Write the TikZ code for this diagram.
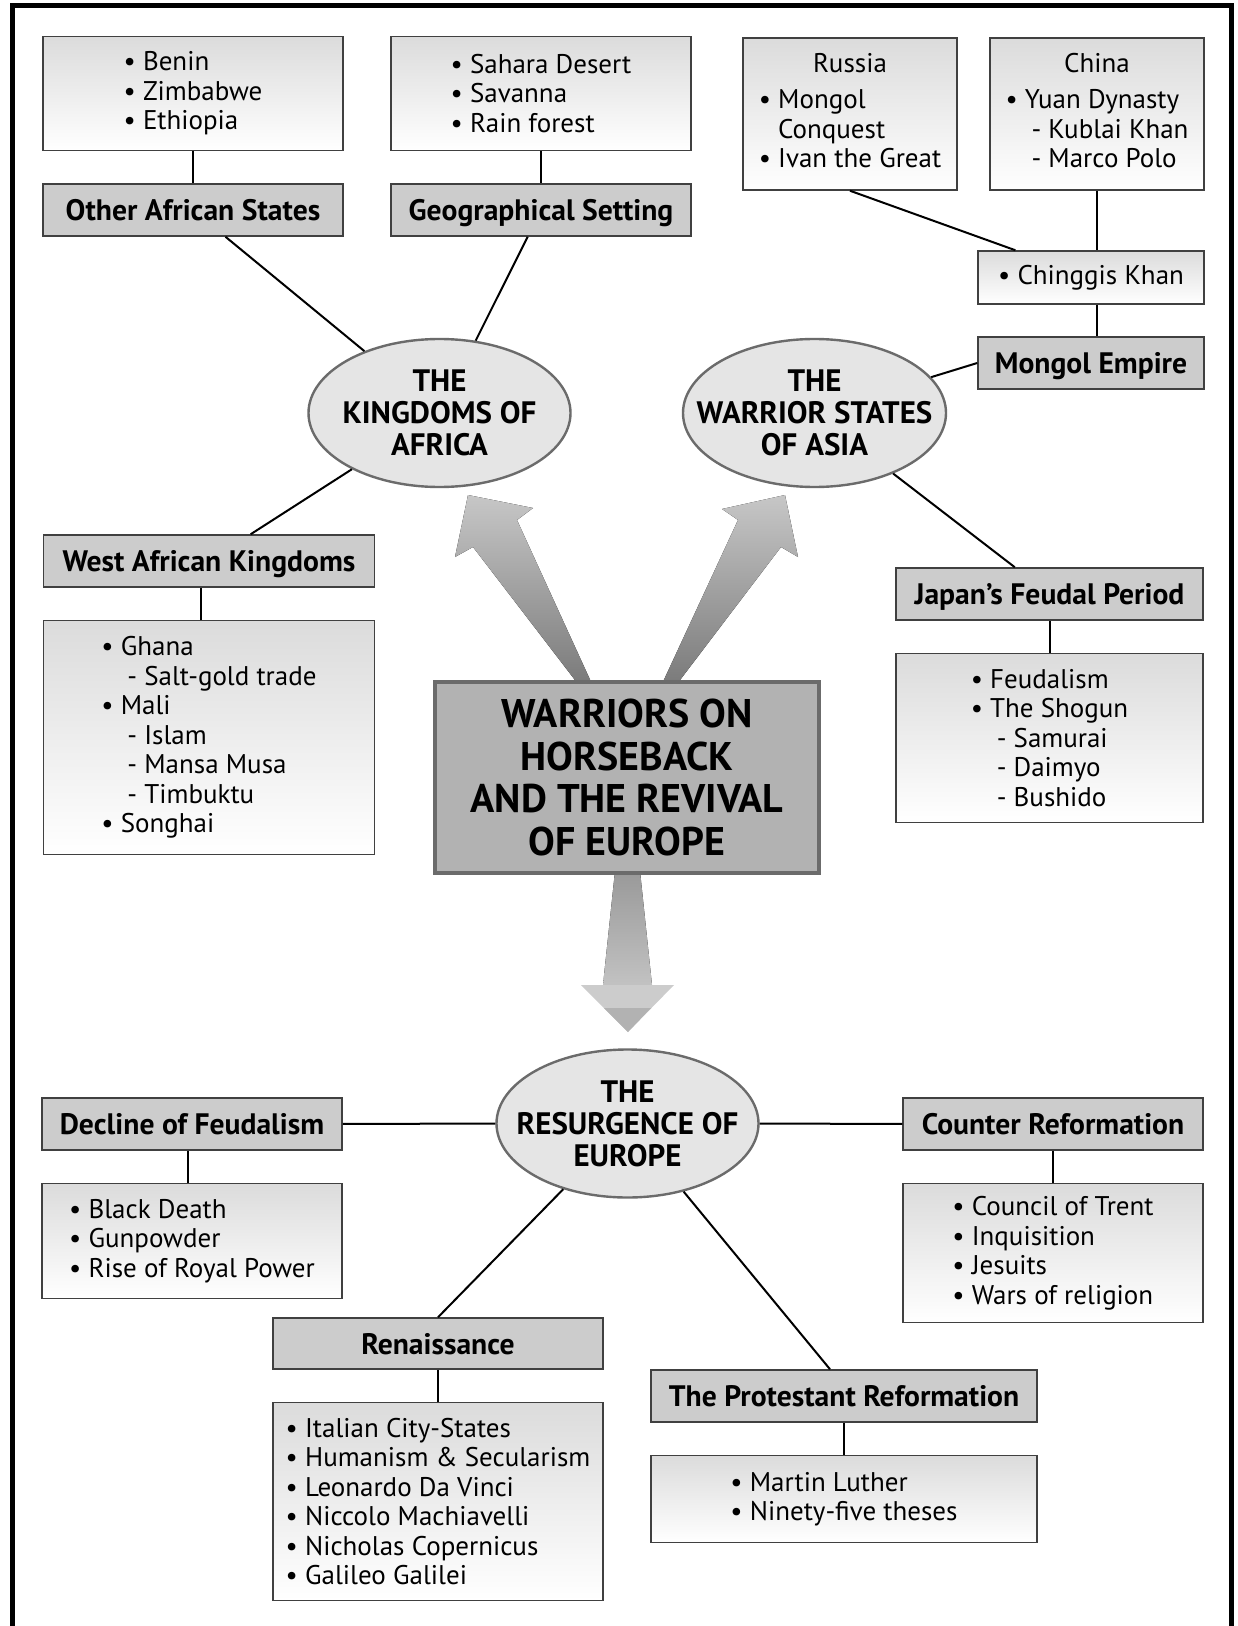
\documentclass[tikz,border=0pt]{standalone}
\usepackage{fontspec}
\setmainfont{PT Sans}
\usetikzlibrary{positioning,shapes.geometric}
\definecolor{Head}{gray}{0.8}
\definecolor{Hub}{gray}{0.9}
\definecolor{Core}{gray}{0.7}
\definecolor{Edge}{gray}{0.25}
\definecolor{Rim}{gray}{0.42}
\newcommand\subitm{\hspace*{13pt}- }
\newcommand\cont{\phantom{•\ }}

\begin{document}
\begin{tikzpicture}[x=0.5pt, y=-0.5pt, node distance=16pt,
  hdbox/.style={draw=Edge, line width=0.75pt, fill=Head, inner sep=2pt, minimum height=26pt, text height=10.5pt, text depth=0pt, font=\bfseries\fontsize{14.8}{16}\selectfont},
  itembox/.style={draw=Edge, line width=0.75pt, top color=black!14, bottom color=white, align=left, inner sep=3pt, font=\fontsize{13.5}{14.75}\selectfont},
  hub/.style={ellipse, draw=Rim, line width=1.2pt, fill=Hub, inner sep=0pt, minimum width=131pt, minimum height=74pt},
  hubtxt/.style={align=center, font=\bfseries\fontsize{15.5}{16}\selectfont},
  link/.style={draw=black, line width=1pt}]

\useasboundingbox (0,0) rectangle (1237,1626);
\draw[line width=2.5pt] (12,1640) -- (12,6) -- (1231,6) -- (1231,1640);

% block arrows
\fill[top color=black!22, bottom color=black!52] (578,684) -- (473,547) -- (455,557) -- (468,495) -- (533,508) -- (517,520) -- (592,684) -- cycle;
\fill[top color=black!22, bottom color=black!52] (662,684) -- (738,520) -- (722,509) -- (785,495) -- (798,557) -- (781,547) -- (677,684) -- cycle;
\fill[top color=black!40, bottom color=black!24] (615,871) -- (640,871) -- (652,985) -- (603,985) -- cycle;
\fill[black!20] (581,985) -- (674,985) -- (628,1032) -- cycle;
\fill[black!30] (604,1008) -- (651,1008) -- (628,1032) -- cycle;

\node[draw=Rim, line width=2.25pt, fill=Core, minimum width=192pt, minimum height=95.5pt, align=center, font=\bfseries\fontsize{20}{21.4}\selectfont] (main) at (627,777.5) {WARRIORS ON\\HORSEBACK\\AND THE REVIVAL\\OF EUROPE};

\node[hub, label={[hubtxt]center:THE\\KINGDOMS OF\\AFRICA}] (afr) at (439.5,413) {};
\node[hub, minimum width=131.5pt, label={[hubtxt]center:THE\\WARRIOR STATES\\OF ASIA}] (asia) at (814.5,413) {};
\node[hub, label={[hubtxt]center:THE\\RESURGENCE OF\\EUROPE}] (eur) at (627.5,1123.5) {};

\node[hdbox, minimum width=150pt] (oas) at (193,210) {Other African States};
\node[itembox, minimum width=150pt, minimum height=57pt, above=of oas] (oasl) {• Benin\\• Zimbabwe\\• Ethiopia};
\node[hdbox, minimum width=150pt] (geo) at (541,210) {Geographical Setting};
\node[itembox, minimum width=150pt, minimum height=57pt, above=of geo] (geol) {• Sahara Desert\\• Savanna\\• Rain forest};

\node[itembox, minimum width=107pt, minimum height=76pt] (rus) at (850,114) {\begin{tabular}{@{}l@{}}\multicolumn{1}{@{}c@{}}{Russia}\\[3.5pt] • Mongol\\ \cont Conquest\\ • Ivan the Great\end{tabular}};
\node[itembox, minimum width=107pt, minimum height=76pt] (chn) at (1097,114) {\begin{tabular}{@{}l@{}}\multicolumn{1}{@{}c@{}}{China}\\[3.5pt] • Yuan Dynasty\\ \subitm Kublai Khan\\ \subitm Marco Polo\end{tabular}};
\node[itembox, minimum width=113pt, minimum height=26.5pt] (chg) at (1091,277.5) {• Chinggis Khan};
\node[hdbox, minimum width=113pt] (mon) at (1091,363) {Mongol Empire};

\node[hdbox, minimum width=165.5pt] (wak) at (209,561) {West African Kingdoms};
\node[itembox, minimum width=165.5pt, minimum height=117pt, below=of wak] (wal) {• Ghana\\\subitm Salt-gold trade\\• Mali\\\subitm Islam\\\subitm Mansa Musa\\\subitm Timbuktu\\• Songhai};
\node[hdbox, minimum width=153.5pt] (jap) at (1049.5,594) {Japan’s Feudal Period};
\node[itembox, minimum width=153.5pt, minimum height=84.5pt, below=of jap] (jal) {• Feudalism\\• The Shogun\\\subitm Samurai\\\subitm Daimyo\\\subitm Bushido};

\node[hdbox, minimum width=150pt] (dec) at (192,1124) {Decline of Feudalism};
\node[itembox, minimum width=150pt, minimum height=57.5pt, below=of dec] (decl) {• Black Death\\• Gunpowder\\• Rise of Royal Power};
\node[hdbox, minimum width=150pt] (ctr) at (1053,1124) {Counter Reformation};
\node[itembox, minimum width=150pt, minimum height=69.5pt, below=of ctr] (ctrl) {• Council of Trent\\• Inquisition\\• Jesuits\\• Wars of religion};
\node[hdbox, minimum width=165pt, minimum height=25.5pt] (ren) at (438,1343.5) {Renaissance};
\node[itembox, minimum width=165pt, minimum height=99pt, below=of ren] (renl) {• Italian City-States\\• Humanism \& Secularism\\• Leonardo Da Vinci\\• Niccolo Machiavelli\\• Nicholas Copernicus\\• Galileo Galilei};
\node[hdbox, minimum width=193pt] (pro) at (844,1396) {The Protestant Reformation};
\node[itembox, minimum width=193pt, minimum height=43.5pt, below=of pro] (prol) {• Martin Luther\\• Ninety-five theses};

\draw[link] (oasl) -- (oas);
\draw[link] (geol) -- (geo);
\draw[link] (oas) -- (afr);
\draw[link] (geo) -- (afr);
\draw[link] (wak) -- (afr);
\draw[link] ([xshift=-4pt]wak.south) -- ([xshift=-4pt]wal.north);
\draw[link] (rus.south) -- (chg);
\draw[link] (chn) -- (chn |- chg.north);
\draw[link] (chn |- chg.south) -- (chn |- mon.north);
\draw[link] (mon.west) -- (asia);
\draw[link] (asia) -- (jap);
\draw[link] (jap) -- (jal);
\draw[link] (dec) -- (eur);
\draw[link] (eur) -- (ctr);
\draw[link] ([xshift=-2pt]dec.south) -- ([xshift=-2pt]decl.north);
\draw[link] (ctr) -- (ctrl);
\draw[link] (eur) -- (ren.north);
\draw[link] (eur) -- ([xshift=-7pt]pro.north);
\draw[link] (ren) -- (renl);
\draw[link] (pro) -- (prol);

\end{tikzpicture}
\end{document}
